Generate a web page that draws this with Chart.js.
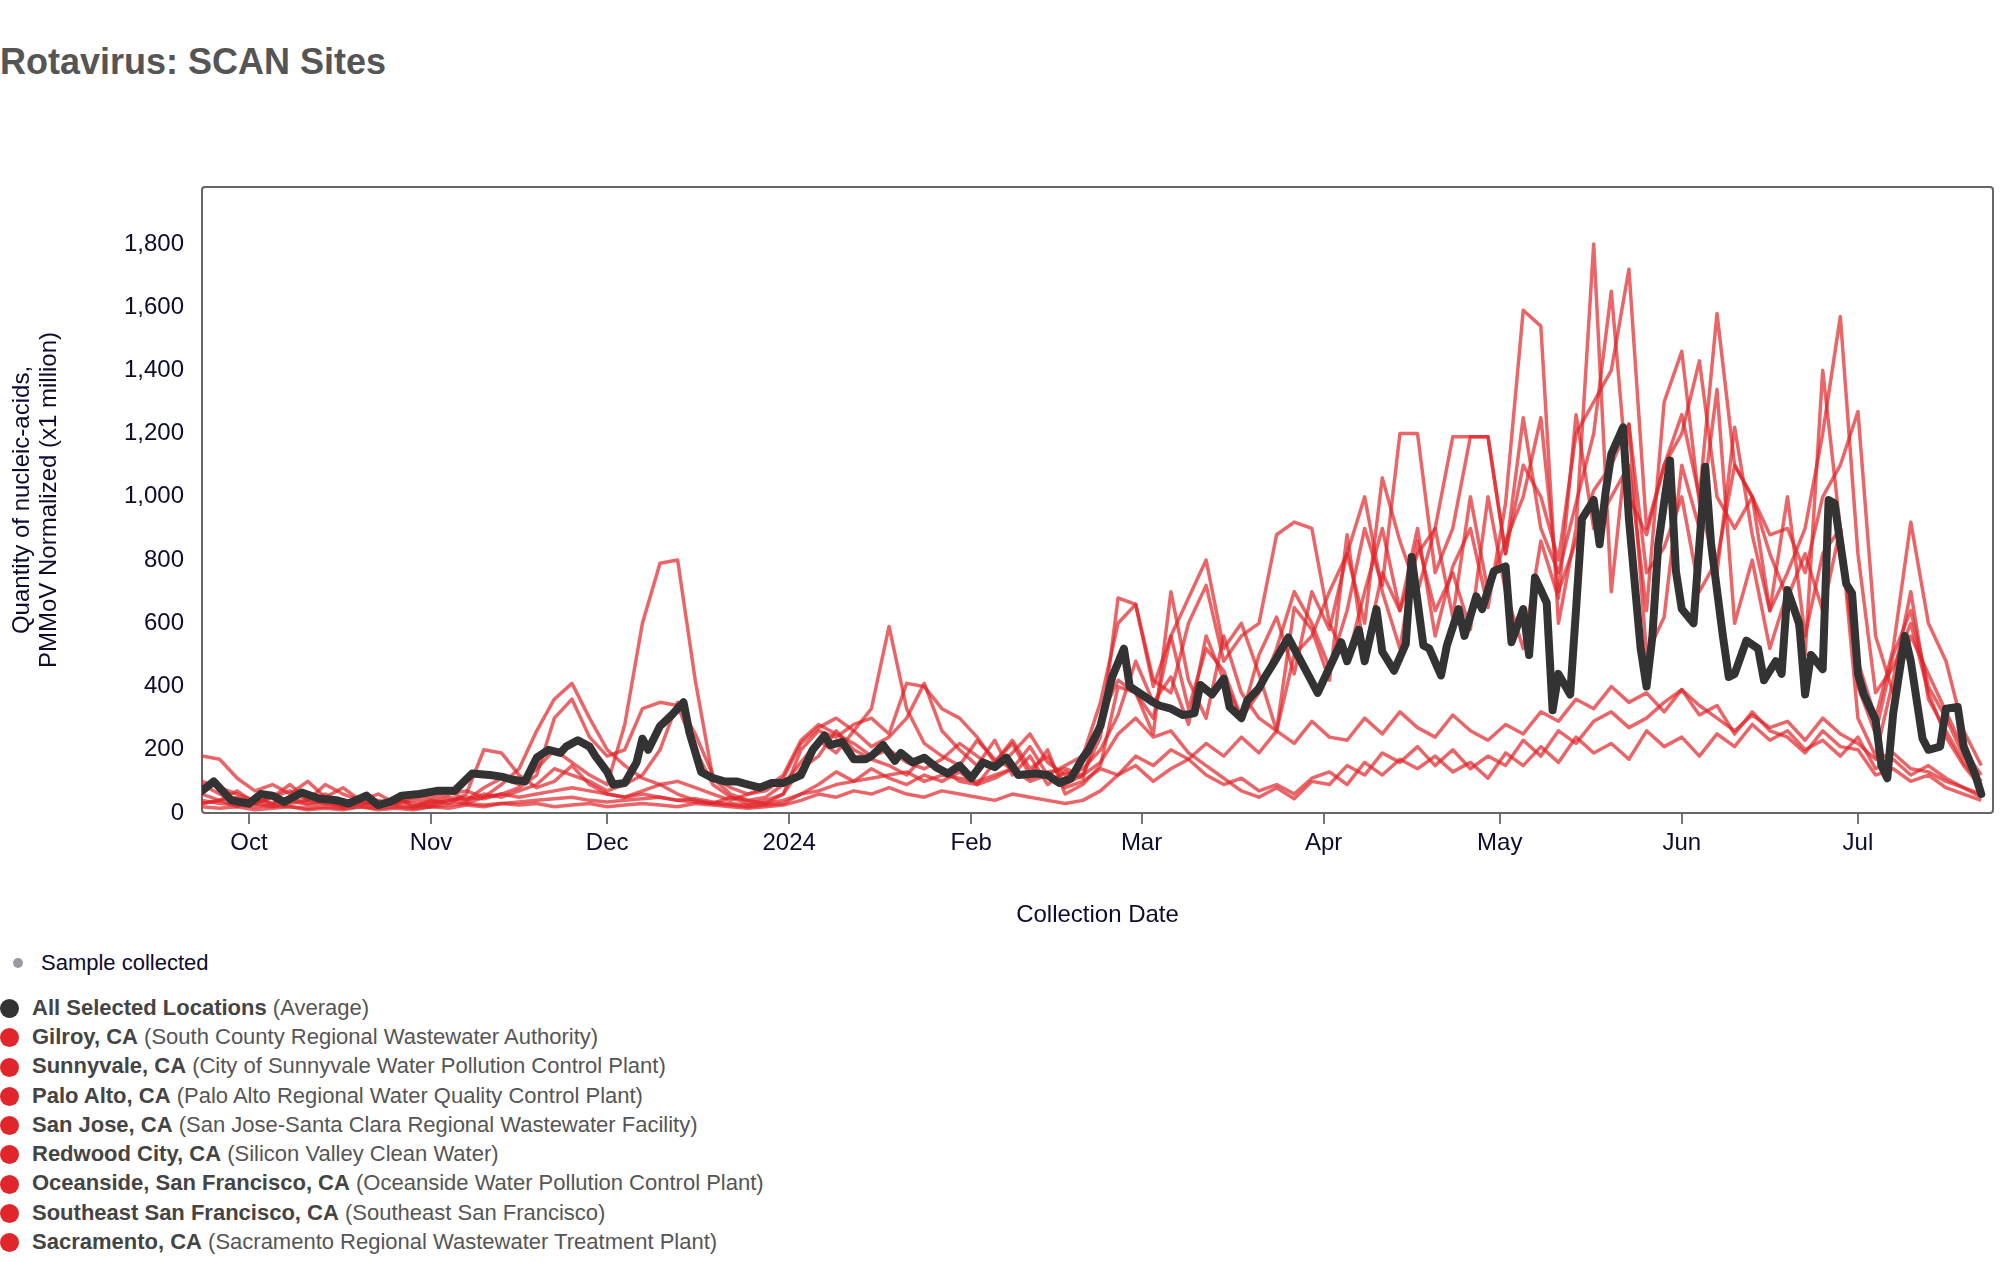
<!DOCTYPE html>
<html>
<head>
<meta charset="utf-8">
<script src="https://cdn.jsdelivr.net/npm/chart.js@4.4.1/dist/chart.umd.min.js"></script>
<style>
  html, body { margin:0; padding:0; background:#fff; width:2010px; height:1262px; overflow:hidden;
    font-family: "Liberation Sans", Arial, Helvetica, sans-serif; }
  #title { position:absolute; left:0; top:44px; margin:0; font-size:36px; line-height:36px; font-weight:bold; color:#555; white-space:nowrap; }
  #c { position:absolute; left:0; top:120px; }
  #sample { position:absolute; left:0; top:948px; height:30px; display:flex; align-items:center; font-size:22px; color:#0d0b2e; }
  #sample .sd { position:absolute; left:13px; width:10px; height:10px; border-radius:50%; background:#9a9aa6; }
  #sample span.t { position:absolute; left:41px; white-space:nowrap; }
  #legend { position:absolute; left:0; top:993px; }
  .row { position:relative; height:29.3px; display:flex; align-items:center; font-size:22px; white-space:nowrap; }
  .row .dot { position:absolute; left:0; top:6px; width:19px; height:19px; border-radius:50%; }
  .row .txt { position:absolute; left:32px; color:#555; }
  .row .txt b { color:#444; }
</style>
</head>
<body>
<h1 id="title">Rotavirus: SCAN Sites</h1>
<canvas id="c" width="2010" height="820" style="width:2010px;height:820px"></canvas>
<div id="sample"><div class="sd"></div><span class="t">Sample collected</span></div>
<div id="legend"></div>
<script>
// ---------------- DATA ----------------
const startDate = '2023-09-23';
const endDay = 305;
const tickDates = ['2023-10-01','2023-11-01','2023-12-01','2024-01-01','2024-02-01','2024-03-01','2024-04-01','2024-05-01','2024-06-01','2024-07-01'];
const tickLabels = ['Oct','Nov','Dec','2024','Feb','Mar','Apr','May','Jun','Jul'];
const yTicks = [0,200,400,600,800,1000,1200,1400,1600,1800];

const seriesNames = ['All Selected Locations','Gilroy, CA','Sunnyvale, CA','Palo Alto, CA','San Jose, CA','Redwood City, CA','Oceanside, San Francisco, CA','Southeast San Francisco, CA','Sacramento, CA'];
const seriesFacilities = ['Average','South County Regional Wastewater Authority','City of Sunnyvale Water Pollution Control Plant','Palo Alto Regional Water Quality Control Plant','San Jose-Santa Clara Regional Wastewater Facility','Silicon Valley Clean Water','Oceanside Water Pollution Control Plant','Southeast San Francisco','Sacramento Regional Wastewater Treatment Plant'];

// days since startDate
const avgDays = [0,2,5,8,10,12,14,17,20,23,25,28,30,32,34,37,40,43,46,49,51,53,55,57,59,61,62,64,66,67,69,70,72,74,75,76,78,80,82,83,85,87,89,91,93,95,97,99,102,104,106,107,109,111,113,114,116,118,119,121,123,125,127,129,131,133,135,137,139,142,144,146,148,150,151,153,155,157,158,160,162,163,165,167,169,170,172,174,175,177,178,180,181,183,185,186,188,190,191,194,195,197,198,200,201,203,205,206,208,209,211,212,214,215,217,218,220,222,223,225,226,227,229,230,231,233,234,235,237,238,239,240,242,243,245,246,247,248,250,251,252,254,255,256,257,259,260,261,263,265,266,268,269,270,272,273,274,276,277,278,280,281,282,283,285,286,287,288,290,291,293,294,296,297,299,300,302,303];
const avgValues = [70,100,40,30,60,55,35,65,45,40,30,55,25,35,55,60,70,70,125,120,115,105,100,175,200,190,210,230,210,180,130,90,95,160,235,200,275,310,350,255,130,110,100,100,90,80,95,95,120,200,245,215,225,170,170,180,215,165,190,160,175,145,125,150,110,160,145,175,120,125,120,95,110,175,200,275,430,520,400,375,350,340,330,310,315,405,375,425,335,300,355,395,430,490,555,520,450,380,420,540,480,580,480,645,510,450,535,810,530,520,435,530,645,560,685,645,765,780,540,645,500,745,665,325,440,375,645,930,990,850,1010,1135,1220,930,520,400,560,850,1115,765,645,600,850,1095,850,560,430,440,545,520,420,480,440,705,600,375,500,455,990,980,725,695,440,375,295,150,110,315,560,480,235,200,210,330,335,210,120,60];

const siteDays = [0,3,6,9,12,15,18,21,24,27,30,33,36,39,42,45,48,51,54,57,60,63,66,69,72,75,78,81,84,87,90,93,96,99,102,105,108,111,114,117,120,123,126,129,132,135,138,141,144,147,150,153,156,159,162,165,168,171,174,177,180,183,186,189,192,195,198,201,204,207,210,213,216,219,222,225,228,231,234,237,240,243,246,249,252,255,258,261,264,267,270,273,276,279,282,285,288,291,294,297,300,303];

const gilroy = [60,40,70,30,50,90,40,60,30,50, 40,30,60,50,70,40,80,110,90,140, 200,160,120,90,280,600,790,800,420,110, 60,40,50,90,160,230,190,260,210,240, 300,410,260,200,150,230,120,180,90,130, 110,300,420,380,250,700,420,300,560,380, 300,260,650,580,420,880,500,760,640,900, 560,780,900,650,980,1590,1540,600,900,1800, 700,1230,500,620,1100,900,1340,600,800,520, 700,500,1400,900,400,250,500,640,400,300, 180,100];
const sunnyvale = [180,170,110,70,90,60,100,50,80,40, 60,30,50,40,60,70,50,90,140,260, 360,410,300,200,150,110,90,100,80,60, 40,60,80,120,230,280,250,220,180,200, 160,140,170,220,180,140,190,250,160,120, 140,200,310,480,350,430,280,560,420,300, 500,620,440,700,580,820,1000,700,520,860, 640,760,580,1000,700,520,860,680,1260,900, 1000,1100,640,1300,1460,980,760,1220,880,640, 1000,560,820,900,300,180,420,700,360,260, 160,90];
const paloAlto = [30,40,20,50,30,40,25,30,20,35, 25,30,40,30,50,40,60,50,70,90, 140,120,100,70,90,120,200,350,250,120, 80,60,70,110,220,270,300,260,330,590, 330,220,180,150,230,170,140,210,120,150, 180,350,600,660,400,560,330,520,450,300, 380,520,700,600,460,640,900,720,1200,1200, 760,900,1190,1190,820,1250,900,760,980,1200, 1650,1000,880,1100,1200,1430,1000,900,1000,640, 760,900,1200,1570,820,380,460,600,380,240, 150,80];
const sanJose = [40,30,25,20,25,20,15,20,15,20, 15,20,15,20,25,30,25,30,35,40, 45,50,40,35,40,45,50,40,35,30, 25,20,25,30,60,90,130,100,140,110, 90,120,100,130,90,110,140,100,120,80, 100,140,120,180,150,200,170,220,180,240, 190,260,220,290,240,230,300,250,320,270, 240,310,260,230,280,250,320,290,360,330, 400,350,380,320,390,340,300,260,310,270, 290,230,300,250,220,170,190,140,130,100, 80,60];
const redwoodCity = [90,60,40,30,50,70,40,90,60,40, 30,50,20,40,30,60,200,190,120,80, 100,150,90,60,50,70,90,60,40,30, 50,30,40,60,140,180,260,200,170,150, 120,180,140,100,90,160,230,140,180,90, 120,240,680,660,420,380,600,720,480,560, 600,880,920,900,600,480,700,900,640,820, 900,1190,1190,1190,820,1100,1000,800,1200,1300, 1400,1720,900,1100,1260,1000,1580,1100,1000,880, 900,760,1000,1100,1270,560,380,560,440,320, 200,120];
const oceanside = [20,15,20,10,15,20,10,15,10,20, 10,15,10,20,15,25,20,30,25,30, 20,25,30,20,25,30,25,20,30,25, 20,15,20,25,40,60,50,70,60,80, 60,50,70,60,50,40,60,50,40,30, 40,70,120,150,100,140,170,120,90,110, 70,90,60,110,130,90,160,120,170,140, 180,130,160,110,190,150,210,160,240,190, 220,170,260,210,240,180,250,210,280,230, 260,200,230,180,240,140,170,120,150,110, 80,50];
const southeastSF = [100,80,60,40,30,50,30,40,20,30, 20,40,30,20,40,30,50,60,80,120, 300,360,240,180,200,330,350,340,200,90, 50,40,30,60,200,260,240,280,300,250, 410,400,330,300,240,160,220,120,200,60, 90,150,400,380,300,560,680,800,520,600, 440,260,500,560,700,820,600,1060,860,700, 900,620,1000,700,860,1000,1250,700,860,1020, 1100,1230,760,840,1000,700,800,1100,1000,820, 680,820,640,900,480,300,520,920,600,480, 260,150];
const sacramento = [30,40,50,30,20,30,40,30,25,30, 30,25,20,30,40,50,45,60,50,60, 70,80,70,60,50,60,50,40,45,35, 30,25,30,40,60,70,90,100,110,120, 130,100,120,110,100,120,140,110,130,140, 120,160,250,300,240,260,190,150,110,70, 50,80,45,100,90,150,120,190,160,210, 150,200,140,180,150,230,180,260,220,290, 320,270,300,350,390,310,340,250,320,260, 240,190,260,210,200,120,140,100,120,80, 60,40];

const siteSeries = [gilroy, sunnyvale, paloAlto, sanJose, redwoodCity, oceanside, southeastSF, sacramento];

// ---------------- BUILD ----------------
const DAY = 86400000;
const t0 = Date.parse(startDate + 'T00:00:00Z');
const toX = d => t0 + d * DAY;
const xMin = toX(0);
const xMax = toX(endDay);
const tickValues = tickDates.map(s => Date.parse(s + 'T00:00:00Z'));

const RED = 'rgba(224, 36, 40, 0.7)';
const datasets = [{
  label: seriesNames[0],
  data: avgDays.map((d, i) => ({x: toX(d), y: avgValues[i]})),
  borderColor: '#333333', borderWidth: 8, pointRadius: 0, tension: 0, borderJoinStyle: 'round', borderCapStyle: 'round'
}];
siteSeries.forEach((vals, k) => {
  datasets.push({
    label: seriesNames[k + 1],
    data: siteDays.map((d, i) => ({x: toX(d), y: vals[i]})),
    borderColor: RED, borderWidth: 3.5, pointRadius: 0, tension: 0, borderJoinStyle: 'round'
  });
});

const frame = {
  id: 'frame',
  beforeDatasetsDraw(chart) {
    const {ctx, chartArea: a} = chart;
    ctx.save();
    ctx.strokeStyle = '#666';
    ctx.lineWidth = 2;
    ctx.beginPath();
    if (ctx.roundRect) ctx.roundRect(a.left, a.top, a.right - a.left, a.bottom - a.top, 3);
    else ctx.rect(a.left, a.top, a.right - a.left, a.bottom - a.top);
    ctx.stroke();
    ctx.restore();
  }
};

const FONT = '"Liberation Sans", Arial, Helvetica, sans-serif';
const INK = '#0d0b2e';

new Chart(document.getElementById('c'), {
  type: 'line',
  data: { datasets },
  plugins: [frame],
  options: {
    responsive: false,
    animation: false,
    devicePixelRatio: 1,
    layout: { padding: { top: 67, right: 17, left: 0, bottom: 0 } },
    plugins: { legend: { display: false }, tooltip: { enabled: false }, title: { display: false } },
    scales: {
      x: {
        type: 'linear', min: xMin, max: xMax, bounds: 'data',
        afterBuildTicks: s => { s.ticks = tickValues.map(v => ({value: v})); },
        afterFit: s => { s.height = 127; },
        ticks: { autoSkip: false, maxRotation: 0, padding: 5, color: INK, font: { family: FONT, size: 24 },
          callback: (v, i) => tickLabels[i] },
        grid: { drawOnChartArea: false, drawTicks: true, tickLength: 11, color: '#777', lineWidth: 2 },
        border: { display: false },
        title: { display: true, text: 'Collection Date', color: INK, font: { family: FONT, size: 24 }, padding: { top: 0, bottom: 10 } }
      },
      y: {
        type: 'linear', min: 0, max: 1980,
        afterBuildTicks: s => { s.ticks = yTicks.map(v => ({value: v})); },
        afterFit: s => { s.width = 202; },
        ticks: { padding: 18, color: INK, font: { family: FONT, size: 24 },
          callback: v => Number(v).toLocaleString('en-US') },
        grid: { display: false, drawTicks: false },
        border: { display: false },
        title: { display: true, text: ['Quantity of nucleic-acids,', 'PMMoV Normalized (x1 million)'], color: INK,
          font: { family: FONT, size: 24, lineHeight: 1.12 }, padding: { top: 9, bottom: 0 } }
      }
    }
  }
});

// ---------------- LEGEND ----------------
const leg = document.getElementById('legend');
seriesNames.forEach((n, i) => {
  const row = document.createElement('div');
  row.className = 'row';
  const dot = document.createElement('div');
  dot.className = 'dot';
  dot.style.background = i === 0 ? '#333333' : '#e0262b';
  const txt = document.createElement('span');
  txt.className = 'txt';
  const b = document.createElement('b');
  b.textContent = n;
  txt.appendChild(b);
  txt.appendChild(document.createTextNode(' (' + seriesFacilities[i] + ')'));
  row.appendChild(dot); row.appendChild(txt);
  leg.appendChild(row);
});
</script>
</body>
</html>
